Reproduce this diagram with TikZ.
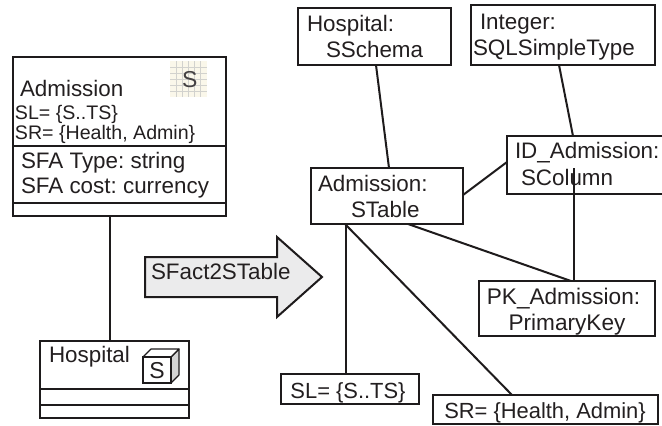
\documentclass[tikz,border=0pt]{standalone}
\usepackage{fontspec}
\setmainfont{Liberation Sans}
\usetikzlibrary{calc}
\frenchspacing
\definecolor{ink}{HTML}{231F20}
\definecolor{lineink}{HTML}{1E1B1C}
\definecolor{arrowfill}{HTML}{EBEBEC}
\definecolor{cubeside}{HTML}{D4D4D4}
\definecolor{iconfill}{HTML}{FAF7EA}
\definecolor{icongrid}{HTML}{D2D2CE}
\newcommand{\bx}[6]{\node[boxnode,minimum width=#4-#2,minimum height=#5-#3,#6] (#1) at ({(#2+#4)/2},{(#3+#5)/2}) {};}
\tikzset{
  x=1pt,y=-1pt,
  boxnode/.style={draw=lineink,line width=2pt,rectangle,inner sep=0pt,outer sep=0pt},
  lbl/.style={anchor=base west,inner sep=0pt,outer sep=0pt,text=ink,font=\fontsize{22.4}{26}\selectfont},
  lblmid/.style={anchor=base,inner sep=0pt,outer sep=0pt,text=ink,font=\fontsize{22.6}{26}\selectfont},
  lblbox/.style={lblmid,font=\fontsize{21.9}{26}\selectfont},
  small/.style={lbl,font=\fontsize{19.6}{24}\selectfont},
  conn/.style={draw=lineink,line width=2pt},
}
\begin{document}
\begin{tikzpicture}
\useasboundingbox (0,0) rectangle (662,426);
\clip (0,0) rectangle (662,426);
\fill[white] (0,0) rectangle (662,426);

% left: Admission class
\bx{adm}{13}{57}{226}{216}{line width=2.3pt}
\draw[conn,line width=2.3pt] ($(adm.north west)+(0,89)$) -- ($(adm.north east)+(0,89)$);
\draw[conn,line width=2.3pt] ($(adm.north west)+(0,146)$) -- ($(adm.north east)+(0,146)$);
\fill[iconfill] (170,61) rectangle (207,97);
\foreach \g in {176,182,188,194,200} \draw[icongrid,line width=.5pt] (\g,61) -- (\g,97);
\foreach \g in {67,73,79,85,91} \draw[icongrid,line width=.5pt] (170,\g) -- (207,\g);
\node[lbl,text=ink!85,font=\fontsize{23}{26}\selectfont] (iconS) at (182,87) {S};
\node[lbl] (tadm) at (20,96) {Admission};
\node[small] (tsl) at (15,119) {SL= \{S..TS\}};
\node[small] (tsr) at (15,139) {SR= \{Health, Admin\}};
\node[lbl] (ttype) at (21,168) {SFA Type: string};
\node[lbl] (tcost) at (21,193) {SFA cost: currency};

% left: Hospital class
\bx{hosp}{40}{341}{189}{418}{}
\draw[conn] ($(hosp.north west)+(0,48)$) -- ($(hosp.north east)+(0,48)$);
\draw[conn,line width=1.6pt] ($(hosp.north west)+(0,64)$) -- ($(hosp.north east)+(0,64)$);
\node[lbl] (thosp) at (49,362) {Hospital};
\draw[lineink,line width=1.1pt,fill=cubeside,line join=round] (171,357) -- (179,349) -- (179,375) -- (171,383) -- cycle;
\draw[lineink,line width=1.1pt,fill=white,line join=round] (143,357) -- (151,349) -- (179,349) -- (171,357) -- cycle;
\node[draw=lineink,line width=1.1pt,fill=white,minimum width=28,minimum height=26,inner sep=0pt,outer sep=0pt] (cube) at (157,370) {};
\node[lblmid,font=\fontsize{23}{26}\selectfont] (cubeS) at (157,378) {S};
\draw[conn] ($(adm.south west)+(97,0)$) -- ($(hosp.north west)+(70,0)$);

% transformation arrow
\draw[lineink,line width=2pt,fill=arrowfill,line join=miter] (145,257) -- (277,257) -- (277,237) -- (322,277) -- (277,317) -- (277,297) -- (145,297) -- cycle;
\node[lbl] (tarrow) at (151,279) {SFact2STable};

% right: boxes
\bx{hs}{298}{8}{451}{65}{}
\node[lbl] (ths1) at (307,31) {Hospital:};
\node[lbl] (ths2) at (326,57) {SSchema};
\bx{int}{471}{5}{655}{65}{}
\node[lbl] (tint1) at (480,29) {Integer:};
\node[lbl] (tint2) at (473,55) {SQLSimpleType};
\bx{tab}{311}{168}{463}{224}{}
\node[lbl] (ttab1) at (318,191) {Admission:};
\node[lbl] (ttab2) at (351,217) {STable};
\bx{col}{507}{136}{680}{194}{}
\node[lbl] (tcol1) at (515,158) {ID\_Admission:};
\node[lbl] (tcol2) at (521,185) {SColumn};
\bx{pk}{479}{281}{655}{336}{}
\node[lblmid] (tpk1) at (563.5,304) {PK\_Admission:};
\node[lblmid] (tpk2) at (567,330) {PrimaryKey};
\bx{sl}{281}{374}{419}{404}{}
\node[lblbox] (tsl2) at (348,398) {SL= \{S..TS\}};
\bx{sr}{433}{395}{658}{424}{}
\node[lblbox] (tsr2) at (545,418) {SR= \{Health, Admin\}};

% right: connectors
\draw[conn] ($(hs.south west)+(78,0)$) -- ($(tab.north west)+(78,0)$);
\draw[conn] ($(int.south west)+(88,0)$) -- ($(col.north west)+(66,0)$);
\draw[conn] ($(tab.north east)+(0,27)$) -- ($(col.north west)+(0,26)$);
\draw[conn] ($(col.north west)+(67,32)$) -- ($(pk.north west)+(95,0)$);
\draw[conn] ($(tab.south west)+(97,0)$) -- ($(pk.north west)+(92,0)$);
\draw[conn] ($(tab.south west)+(35,0)$) -- ($(sl.north west)+(65,0)$);
\draw[conn] ($(tab.south west)+(34,0)$) -- ($(sr.north west)+(79,0)$);
\end{tikzpicture}
\end{document}
